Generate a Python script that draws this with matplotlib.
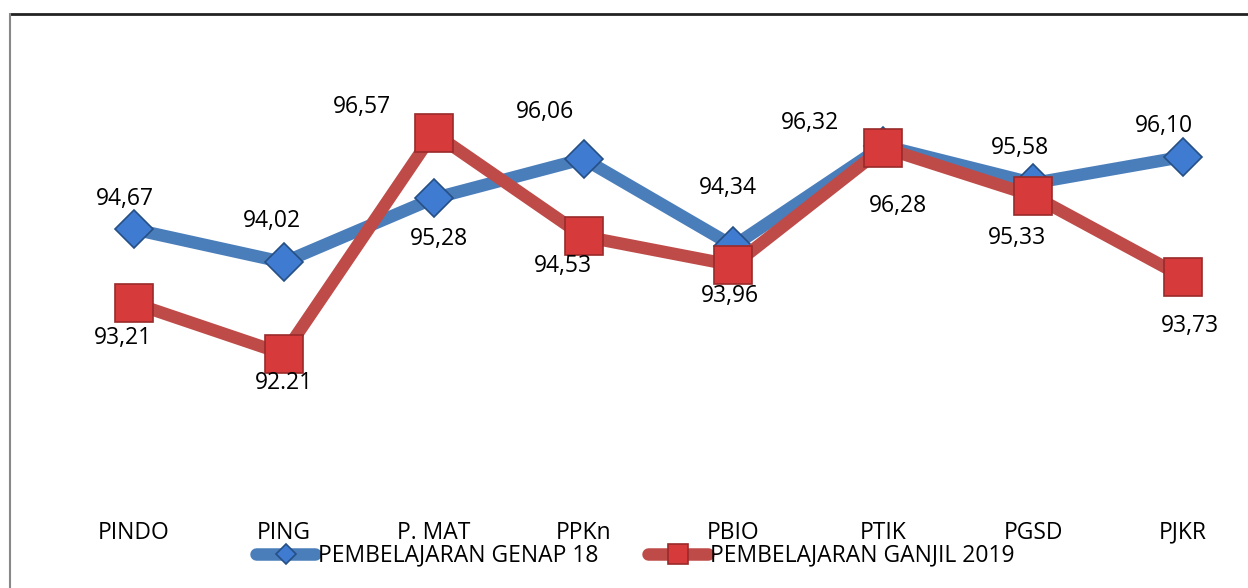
import matplotlib.pyplot as plt
from matplotlib.lines import Line2D

plt.rcParams['font.family'] = ['Open Sans', 'DejaVu Sans']

categories = ['PINDO', 'PING', 'P. MAT', 'PPKn', 'PBIO', 'PTIK', 'PGSD', 'PJKR']
genap = [94.67, 94.02, 95.28, 96.06, 94.34, 96.32, 95.58, 96.10]
ganjil = [93.21, 92.21, 96.57, 94.53, 93.96, 96.28, 95.33, 93.73]
genap_labels = ['94,67', '94,02', '95,28', '96,06', '94,34', '96,32', '95,58', '96,10']
ganjil_labels = ['93,21', '92.21', '96,57', '94,53', '93,96', '96,28', '95,33', '93,73']

# label offsets in pixels (x, y up)
genap_off = [(-9, 30), (-12, 41), (5, -41), (-39, 47), (-6, 58), (-73, 23), (-13, 35), (-19, 31)]
ganjil_off = [(-11, -35), (0, -29), (-72, 26), (-21, -30), (-3, -31), (15, -58), (-16, -42), (7, -49)]

blue = '#4A7EBB'
red = '#BE4B48'

fig = plt.figure(figsize=(12.48, 5.88), dpi=100)
ax = fig.add_axes([59 / 1248, 0.1213, 1184 / 1248, 0.7327])
x = list(range(len(categories)))

ax.plot(x, genap, color=blue, lw=9, marker='D', ms=19, mfc='#3F7BD0',
        mec='#264F86', mew=1.2, solid_joinstyle='round', solid_capstyle='round',
        label='PEMBELAJARAN GENAP 18', zorder=2)
ax.plot(x, ganjil, color=red, lw=9, marker='s', ms=27, mfc='#D73A3A',
        mec='#9A2A2A', mew=1.2, solid_joinstyle='round', solid_capstyle='round',
        label='PEMBELAJARAN GANJIL 2019', zorder=3)

for i in x:
    ax.annotate(genap_labels[i], (i, genap[i]), xytext=genap_off[i], textcoords='offset pixels',
                ha='center', va='center', fontsize=16.5, color='black', zorder=5)
    ax.annotate(ganjil_labels[i], (i, ganjil[i]), xytext=ganjil_off[i], textcoords='offset pixels',
                ha='center', va='center', fontsize=16.5, color='black', zorder=5)

ax.set_xlim(-0.5, 7.4)
ax.set_ylim(89, 97.5)
ax.set_xticks(x)
ax.set_xticklabels(categories, fontsize=16.5)
ax.tick_params(axis='x', length=0, pad=3)
ax.set_yticks([])
for s in ax.spines.values():
    s.set_visible(False)

fig.legend(loc='center', bbox_to_anchor=(0.509, 0.055), ncol=2, frameon=False,
           fontsize=16.5, handlelength=2.6, handletextpad=0.1, columnspacing=2.2,
           markerscale=0.55)

# chart border (top and left visible)
fig.add_artist(Line2D([10 / 1248, 1], [1 - 14 / 588, 1 - 14 / 588], color='#222222', lw=2))
fig.add_artist(Line2D([10 / 1248, 10 / 1248], [0, 1 - 14 / 588], color='#888888', lw=1.5))

fig.savefig('out.png', dpi=100)
